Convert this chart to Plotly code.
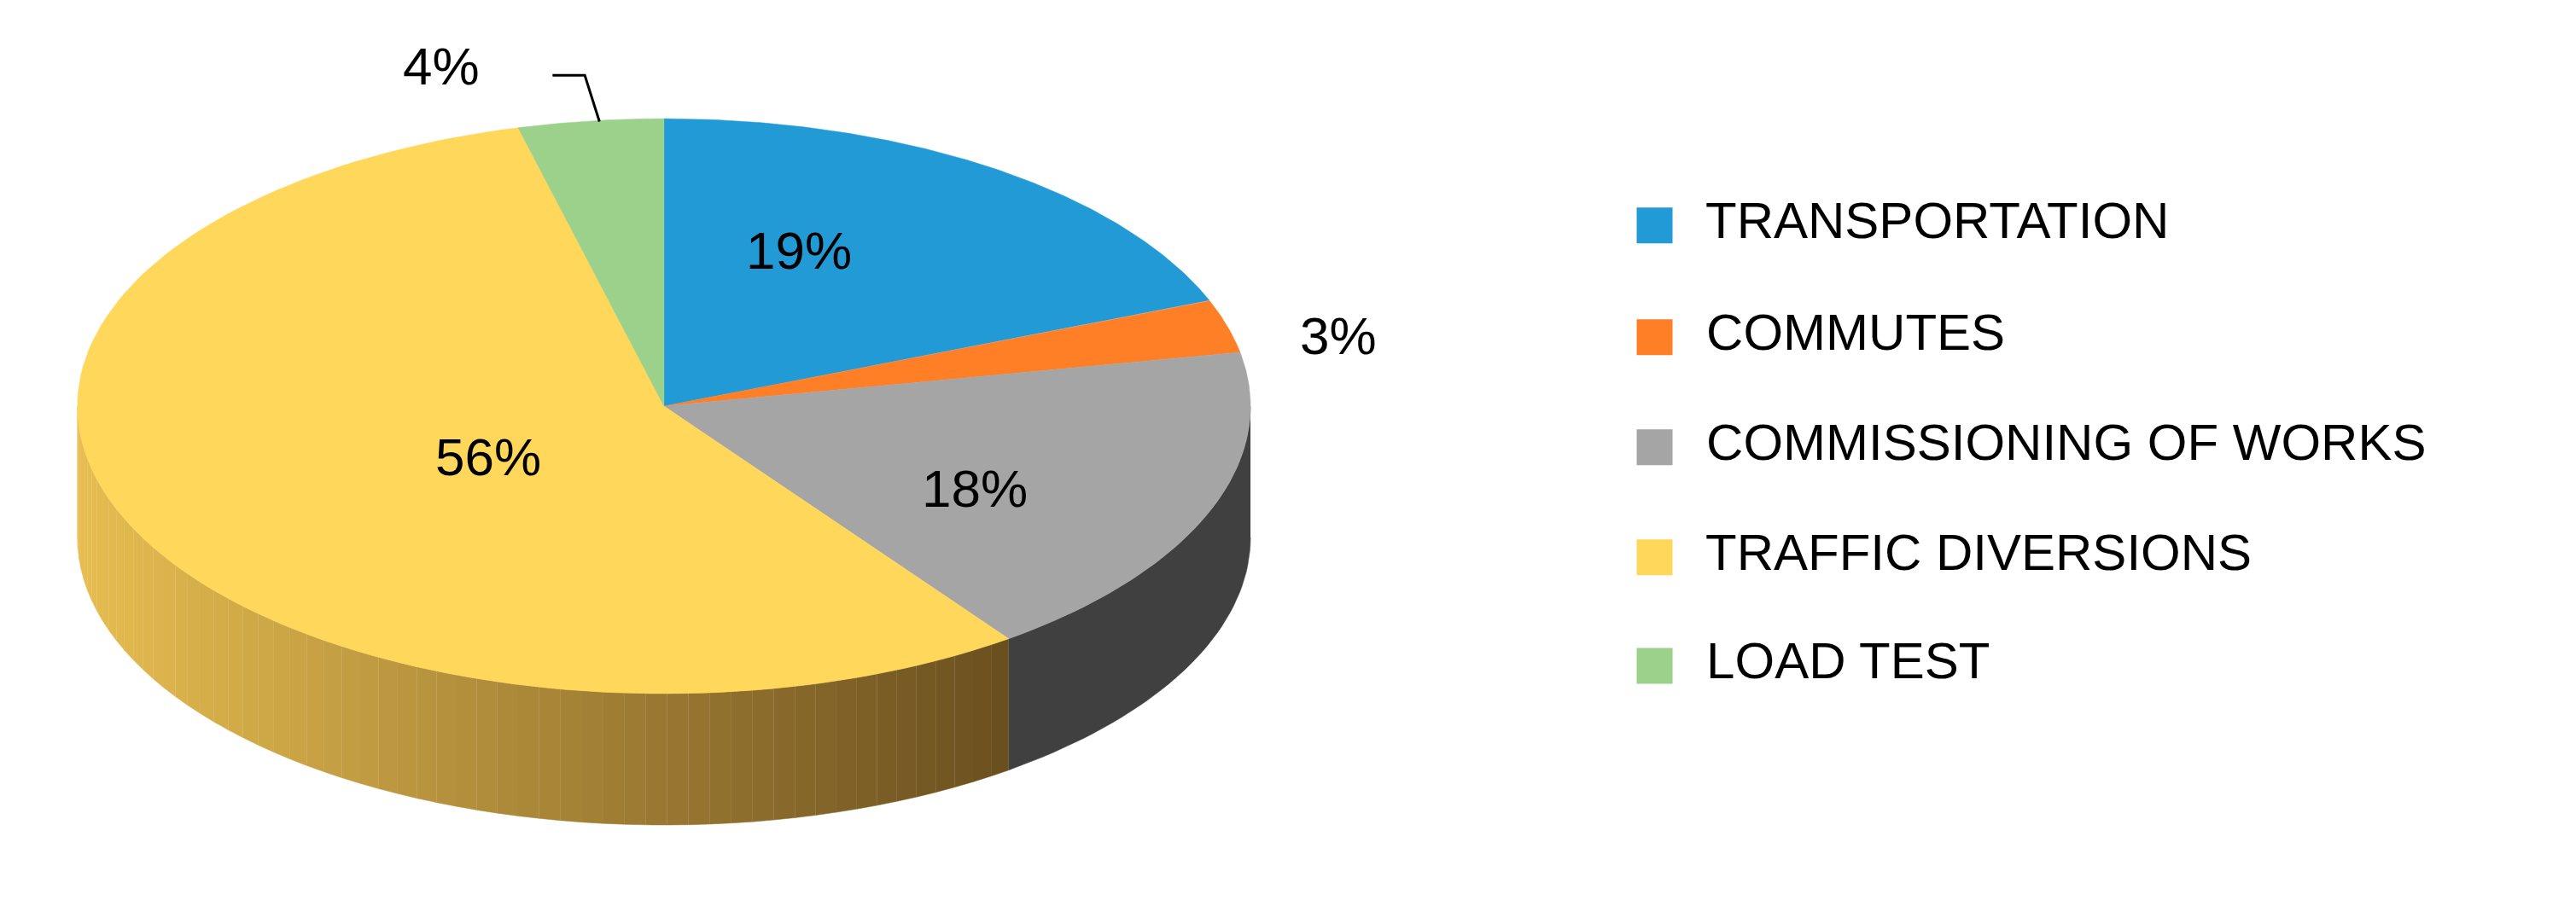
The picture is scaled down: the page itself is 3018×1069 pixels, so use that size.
import numpy as np
import plotly.graph_objects as go

categories = ["TRANSPORTATION", "COMMUTES", "COMMISSIONING OF WORKS", "TRAFFIC DIVERSIONS", "LOAD TEST"]
values = [19, 3, 18, 56, 4]
labels = ["19%", "3%", "18%", "56%", "4%"]
top_colors = ["#229AD6", "#FF7F27", "#A5A5A5", "#FFD75A", "#9BD18A"]
side_colors = ["#1565A0", "#B05010", "#404040", None, "#5E8F4E"]

RX, RY, DEPTH = 1.0, 0.49, 0.224
FONT = "Liberation Sans Narrow, Liberation Sans, Arial"

def pt(theta_deg, dy=0.0):
    t = np.radians(theta_deg)
    return RX * np.sin(t), RY * np.cos(t) - dy

fig = go.Figure()
total = sum(values)
bounds = np.concatenate([[0], np.cumsum(values) / total * 360])

def hexmix(c1, c2, f):
    a = [int(c1[i:i+2], 16) for i in (1, 3, 5)]
    b = [int(c2[i:i+2], 16) for i in (1, 3, 5)]
    return "#%02x%02x%02x" % tuple(int(round(a[k] + (b[k] - a[k]) * f)) for k in range(3))

def side_poly(a1, a2, color):
    th = np.linspace(a1, a2, 40)
    xs, ys = pt(th)
    xb, yb = pt(th[::-1], DEPTH)
    fig.add_trace(go.Scatter(x=np.r_[xs, xb], y=np.r_[ys, yb], fill="toself", mode="lines",
                             line=dict(width=0.5, color=color), fillcolor=color,
                             showlegend=False, hoverinfo="skip"))

# sides (front half: 90..270 deg)
for i in range(len(values)):
    a1, a2 = max(bounds[i], 90), min(bounds[i + 1], 270)
    if a2 <= a1:
        continue
    if side_colors[i] is None:
        n = 60
        edges = np.linspace(a1, a2, n + 1)
        for k in range(n):
            xm = RX * np.sin(np.radians((edges[k] + edges[k + 1]) / 2))
            f = (xm - (-RX)) / (np.sin(np.radians(a1)) * RX + RX)
            side_poly(edges[k], edges[k + 1], hexmix("#E7BD50", "#6A4F1F", np.clip(f, 0, 1)))
    else:
        side_poly(a1, a2, side_colors[i])

# tops
for i in range(len(values)):
    th = np.linspace(bounds[i], bounds[i + 1], 120)
    xs, ys = pt(th)
    fig.add_trace(go.Scatter(x=np.r_[0, xs, 0], y=np.r_[0, ys, 0], fill="toself", mode="lines",
                             line=dict(width=0.5, color=top_colors[i]), fillcolor=top_colors[i],
                             showlegend=False, hoverinfo="skip"))

# data labels
label_pos = [(0.23, 0.266), (1.15, 0.12), (0.53, -0.14), (-0.30, -0.087), (-0.38, 0.58)]
for (x, y), t in zip(label_pos, labels):
    fig.add_annotation(x=x, y=y, text=t, showarrow=False, font=dict(size=62, color="#000", family=FONT))
# leader line for 4%
fig.add_trace(go.Scatter(x=[-0.19, -0.135, -0.11], y=[0.564, 0.564, 0.485], mode="lines",
                         line=dict(color="#000", width=3), showlegend=False, hoverinfo="skip"))

# legend
ly = [(243 - p) / 357 for p in (133, 201, 268, 335, 401)]
lx = (1003 - 400) / 357
fig.add_trace(go.Scatter(x=[lx] * 5, y=ly, mode="markers+text", text=["  " + c for c in categories],
                         textposition="middle right",
                         textfont=dict(size=60, color="#000", family=FONT),
                         marker=dict(symbol="square", size=42, color=top_colors),
                         showlegend=False, hoverinfo="skip", cliponaxis=False))

fig.update_layout(width=3018, height=1069, margin=dict(l=0, r=0, t=0, b=0),
                  plot_bgcolor="white", paper_bgcolor="white",
                  xaxis=dict(range=[-400 / 357, 1168 / 357], visible=False),
                  yaxis=dict(range=[(243 - 555) / 357, 243 / 357], visible=False))
fig.write_html("out.html")
